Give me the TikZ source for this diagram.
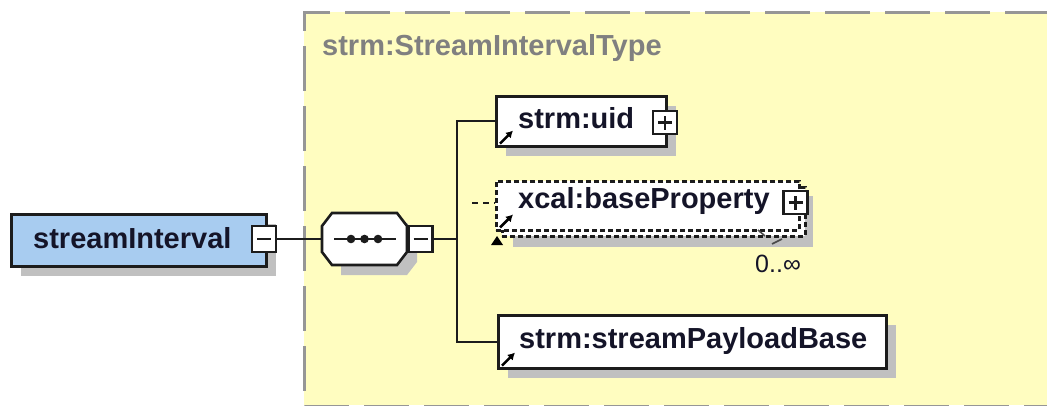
\documentclass[tikz,border=0pt]{standalone}
\usepackage{fontspec}
\setmainfont{Liberation Sans}
\usetikzlibrary{arrows.meta}
\definecolor{bgyellow}{RGB}{255,253,192}
\definecolor{bluefill}{RGB}{168,204,240}
\definecolor{shadowgray}{RGB}{192,192,192}
\definecolor{borderdark}{RGB}{28,28,28}
\definecolor{titlegray}{RGB}{128,128,128}
\definecolor{framegray}{RGB}{150,150,150}
\definecolor{txt}{RGB}{20,20,40}
\begin{document}
\begin{tikzpicture}[x=1pt,y=-1pt,
  elbox/.style={draw=borderdark, line width=2.6, fill=white, inner sep=0, rectangle, anchor=north west},
  dashbox/.style={draw=borderdark, line width=2.5, dash pattern=on 5 off 3, fill=white, inner sep=0, rectangle, anchor=north west},
  lbl/.style={font=\fontsize{29}{30}\selectfont\bfseries, text=txt, inner sep=0, anchor=base west},
  pmbox/.style={draw=borderdark, line width=2.2, fill=white, minimum width=24, minimum height=24, inner sep=0},
  conn/.style={draw=borderdark, line width=2},
  sign/.style={draw=borderdark, line width=2.2},
  refarrow/.style={draw=black, line width=2.6, -{Latex[length=7,width=8]}}
]
\useasboundingbox (0,0) rectangle (1047,405);

% complex type frame
\fill[bgyellow] (304,12) rectangle (1060,405);
\draw[framegray, line width=3, dash pattern=on 45 off 15, dash phase=50]
  (1060,12) -- (304,12) -- (304,406) -- (1060,406);
\node[font=\fontsize{29}{30}\selectfont\bfseries, text=titlegray, inner sep=0, anchor=base west] (title) at (322,55) {strm:StreamIntervalType};

% root element
\fill[shadowgray] (21,224) rectangle ++(255,52);
\node[elbox, fill=bluefill, minimum width=255, minimum height=52] (si) at (10,213) {};
\node[lbl] (silbl) at (33,248) {streamInterval};
\node[pmbox, minimum height=26] (siminus) at (264,239) {};
\draw[sign] ([xshift=-7]siminus.center) -- ([xshift=7]siminus.center);

% sequence compositor
\fill[shadowgray] (341,223) -- (407,223) -- (417,236) -- (417,262) -- (407,275) -- (341,275) -- cycle;
\node[minimum width=85, minimum height=52, inner sep=0] (seq) at (364.5,239) {};
\draw[borderdark, line width=2.6, fill=white] (332,213) -- (397,213) -- (407,226) -- (407,252) -- (397,265) -- (332,265) -- (322,252) -- (322,226) -- cycle;
\draw[borderdark, line width=2] (334,239) -- (396,239);
\foreach \dx in {351,364.5,378} \fill[borderdark] (\dx,239) circle (4.3);
\node[pmbox, minimum height=26] (seqminus) at (420.5,239) {};
\draw[sign] ([xshift=-7]seqminus.center) -- ([xshift=7]seqminus.center);

\coordinate (spine) at (457,239);
\coordinate (bpstart) at (472,203);

% strm:uid
\fill[shadowgray] (506,106) rectangle (676,156);
\node[elbox, minimum width=170, minimum height=50] (uid) at (495,95) {};
\node[lbl] (uidlbl) at (518,128) {strm:uid};
\draw[refarrow] ([shift={(5,-4)}]uid.south west) -- ([shift={(18,-17)}]uid.south west);
\node[pmbox, minimum height=23] (uidplus) at (665,122.5) {};
\draw[sign] ([xshift=-7]uidplus.center) -- ([xshift=7]uidplus.center);
\draw[sign] ([yshift=-7]uidplus.center) -- ([yshift=7]uidplus.center);

% xcal:baseProperty (optional, repeating)
\fill[shadowgray] (513,196) rectangle (813,247);
\node[dashbox, minimum width=303, minimum height=49] (bpback) at (501,186) {};
\node[dashbox, minimum width=303, minimum height=49] (bp) at (495,180) {};
\node[lbl] (bplbl) at (518,208) {xcal:baseProperty};
\draw[refarrow] ([shift={(5,-4)}]bp.south west) -- ([shift={(18,-17)}]bp.south west);
\node[pmbox, minimum height=23] (bpplus) at (795.5,202.5) {};
\draw[sign] ([xshift=-7]bpplus.center) -- ([xshift=7]bpplus.center);
\draw[sign] ([yshift=-7]bpplus.center) -- ([yshift=7]bpplus.center);
\fill[black] (491,245) -- (497,236) -- (503,245) -- cycle;
\draw[borderdark!80, line width=1.6] (758,230) -- (765,236) (772,244) -- (782,239);
\node[font=\fontsize{25}{26}\selectfont, text=txt, inner sep=0, anchor=base west] (occ) at (755,272) {0..∞};

% strm:streamPayloadBase
\fill[shadowgray] (508,325) rectangle (896,378);
\node[elbox, minimum width=388, minimum height=53] (pl) at (497,314) {};
\node[lbl] (pllbl) at (519,348) {strm:streamPayloadBase};
\draw[refarrow] ([shift={(5,-4)}]pl.south west) -- ([shift={(18,-17)}]pl.south west);

% connectors
\draw[conn] (siminus.east) -- (seq.west);
\draw[conn] (seqminus.east) -- (spine);
\draw[conn] (uid.west) -| (spine) |- (pl.west);
\draw[conn, dash pattern=on 6 off 5] (bpstart) -- (bp.west |- bpstart);
\end{tikzpicture}
\end{document}
